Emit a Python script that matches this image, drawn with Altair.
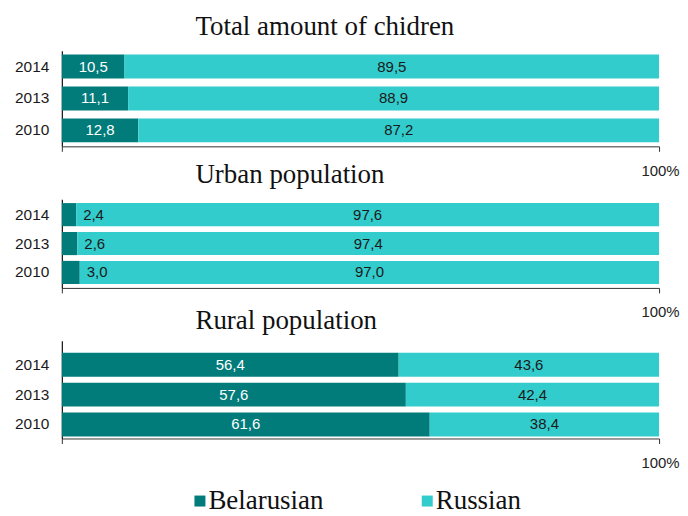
import altair as alt
import pandas as pd

years = ["2014", "2013", "2010"]
groups = ["Belarusian", "Russian"]
colors = ["#027B7B", "#33CCCC"]

panel_titles = ["Total amount of chidren", "Urban population", "Rural population"]
total_bel = [10.5, 11.1, 12.8]
total_rus = [89.5, 88.9, 87.2]
urban_bel = [2.4, 2.6, 3.0]
urban_rus = [97.6, 97.4, 97.0]
rural_bel = [56.4, 57.6, 61.6]
rural_rus = [43.6, 42.4, 38.4]


def long_table(bel, rus):
    rows = []
    for i, y in enumerate(years):
        rows.append({"year": y, "group": groups[0], "gi": 0, "value": bel[i]})
        rows.append({"year": y, "group": groups[1], "gi": 1, "value": rus[i]})
    return pd.DataFrame(rows)


SANS = "Liberation Sans, Arial, sans-serif"
SERIF = "Times New Roman, Liberation Serif, serif"


def panel(title, bel, rus, height, pin, pout, align, small, tdy):
    df = long_table(bel, rus)
    base = alt.Chart(df)
    yenc = alt.Y(
        "year:N",
        sort=years,
        title=None,
        scale=alt.Scale(paddingInner=pin, paddingOuter=pout, align=align),
        axis=alt.Axis(ticks=False, labelFont=SANS, labelFontSize=15.5, labelColor="#1a1a1a",
                      labelPadding=13, domainColor="#111", domainWidth=1.2),
    )
    bars = base.mark_bar().encode(
        x=alt.X("value:Q", stack="zero", title=None,
                scale=alt.Scale(domain=[0, 100], nice=False),
                axis=alt.Axis(values=[0, 100], grid=False, tickSize=5, tickColor="#333",
                              domainColor="#333", labelFont=SANS, labelFontSize=15,
                              labelColor="#222", labelPadding=12, labelOffset=1,
                              labelFlush=False, labelOverlap=False,
                              labelExpr="datum.value == 100 ? '100%' : ''")),
        y=yenc,
        color=alt.Color("group:N", scale=alt.Scale(domain=groups, range=colors),
                        legend=alt.Legend(title=None, orient="none", direction="horizontal",
                                          legendX=125, legendY=438, symbolType="square",
                                          symbolSize=121, symbolStrokeWidth=0,
                                          labelFont=SERIF, labelFontSize=27, labelColor="#111",
                                          labelOffset={"expr": "-5"}, columnPadding=90,
                                          padding=0)),
        order=alt.Order("gi:Q"),
    )
    lab = "replace(format(datum.value, '.1f'), '.', ',')"
    if small:
        xpos = "datum.gi == 0 ? datum.value : 100 - datum.value / 2"
        tcol = "'#1a1a1a'"
    else:
        xpos = "datum.gi == 0 ? datum.value / 2 : 100 - datum.value / 2"
        tcol = "datum.gi == 0 ? '#ffffff' : '#1a1a1a'"
    txt_df = base.transform_calculate(lab=lab, xp=xpos, tc=tcol)
    if small:
        t_bel = txt_df.transform_filter("datum.gi == 0").mark_text(
            font=SANS, fontSize=15, align="left", dx=7, baseline="middle").encode(
            x=alt.X("xp:Q"), y=alt.Y("year:N", sort=years), text="lab:N",
            color=alt.Color("tc:N", scale=None))
    else:
        t_bel = txt_df.transform_filter("datum.gi == 0").mark_text(
            font=SANS, fontSize=15, align="center", baseline="middle").encode(
            x=alt.X("xp:Q"), y=alt.Y("year:N", sort=years), text="lab:N",
            color=alt.Color("tc:N", scale=None))
    t_rus = txt_df.transform_filter("datum.gi == 1").mark_text(
        font=SANS, fontSize=15, align="center", baseline="middle").encode(
        x=alt.X("xp:Q"), y=alt.Y("year:N", sort=years), text="lab:N",
        color=alt.Color("tc:N", scale=None))
    return alt.layer(bars, t_bel, t_rus).properties(
        width=599, height=height,
        title=alt.TitleParams(title, font=SERIF, fontSize=27, fontWeight="normal",
                              color="#111", anchor="start", frame="group", dx=134,
                              dy=tdy, offset=10),
    )


p1 = panel(panel_titles[0], total_bel, total_rus, 96, 0.25, 0.125, 0.5, False, 0)
p2 = panel(panel_titles[1], urban_bel, urban_rus, 89, 0.2, 0.135, 0.5, True, 0)
p3 = panel(panel_titles[2], rural_bel, rural_rus, 98, 0.2, 0.233, 0.857, False, 4)

chart = alt.vconcat(p1, p2, p3, spacing=53, bounds="flush").properties(
    padding={"left": 6, "top": 4, "right": 0, "bottom": 0},
    background="white",
).configure_view(stroke=None)

chart.save("out.html", embed_options={"renderer": "svg", "actions": False})
